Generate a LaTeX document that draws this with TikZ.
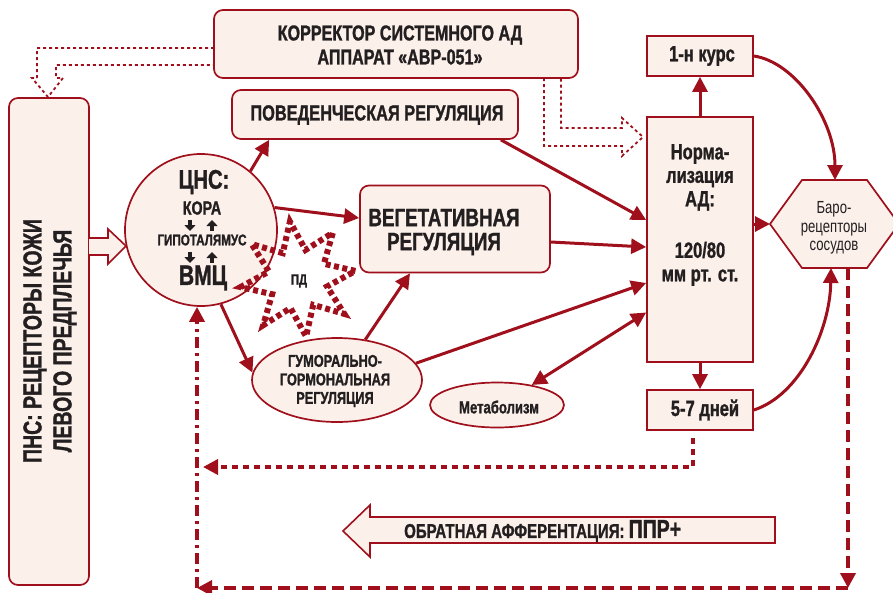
\documentclass[tikz,border=0pt]{standalone}
\usepackage{fontspec}
\setmainfont{Liberation Sans}[FakeStretch=0.75,BoldFeatures={FakeBold=1.2}]
\usetikzlibrary{arrows.meta,calc,shapes.geometric}
\definecolor{dred}{HTML}{A0101C}
\definecolor{cream}{HTML}{FBF0EA}
\definecolor{txt}{HTML}{231F20}
\begin{document}
\begin{tikzpicture}[x=1pt,y=-1pt,
  box/.style={draw=dred,line width=1.7pt,fill=cream,inner sep=0pt},
  rbox/.style={box,rounded corners=9pt},
  lbl/.style={text=txt,font=\bfseries,align=center,inner sep=0pt},
  tip/.style={-{Triangle[length=15pt,width=15pt]}},
  arr/.style={draw=dred,line width=3pt,tip},
  darr/.style={draw=dred,line width=3pt,{Triangle[length=15pt,width=15pt]}-{Triangle[length=15pt,width=15pt]}},
  hollow/.style={draw=dred,line width=1.6pt,fill=cream},
  dotarrow/.style={draw=dred,line width=1.8pt,dash pattern=on 3pt off 3pt},
  fbdash/.style={draw=dred,line width=3.6pt,dash pattern=on 12pt off 6pt},
  fbdot/.style={draw=dred,line width=3.6pt,dash pattern=on 6pt off 5pt},
  fbdashdot/.style={draw=dred,line width=3.6pt,dash pattern=on 11pt off 5pt on 3pt off 5pt},
  pdline/.style={draw=dred,line width=6pt,dash pattern=on 5pt off 3.5pt},
  small/.style={draw=txt,line width=3.8pt,-{Triangle[length=6pt,width=11pt]}}
]
\useasboundingbox (0,0) rectangle (893,592);

% boxes
\node[rbox,minimum width=364pt,minimum height=68pt] (top) at (396,44) {};
\node[lbl,font=\bfseries\fontsize{21.5}{24}\selectfont] (toptext) at (400,45) {КОРРЕКТОР СИСТЕМНОГО АД\\АППАРАТ «АВР-051»};

\node[rbox,minimum width=80pt,minimum height=487pt] (pns) at (49,341.5) {};
\node[lbl,rotate=90,font=\bfseries\fontsize{26}{30}\selectfont] (pnstext) at (50,341) {ПНС: РЕЦЕПТОРЫ КОЖИ\\ЛЕВОГО ПРЕДПЛЕЧЬЯ};

\node[rbox,minimum width=286pt,minimum height=49pt] (pov) at (375,114.5) {};
\node[lbl,font=\bfseries\fontsize{21.8}{24}\selectfont] (povtext) at (377,115) {ПОВЕДЕНЧЕСКАЯ РЕГУЛЯЦИЯ};

\node[box,minimum width=106pt,minimum height=40pt] (kurs) at (700,56) {};
\node[lbl,font=\bfseries\fontsize{22}{24}\selectfont] (kurstext) at (702,56) {1-н курс};

\node[box,minimum width=106pt,minimum height=245pt] (norm) at (700,239.5) {};
\node[lbl,font=\bfseries\fontsize{22}{23.5}\selectfont] (normtext) at (700,215) {Норма-\\лизация\\АД:\\[28pt]120/80\\мм рт. ст.};

\node[box,minimum width=106pt,minimum height=40pt] (dney) at (700,410) {};
\node[lbl,font=\bfseries\fontsize{22}{24}\selectfont] (dneytext) at (705,410) {5-7 дней};

\draw[box] (770,224) coordinate (hexW) -- (802,180) -- (867,180) -- (899,224) -- (867,268) -- (802,268) -- cycle;
\coordinate (hexT) at (835,180);
\coordinate (hexB) at (831,268);
\coordinate (hexBR) at (848,268);
\node[lbl,font=\fontsize{17.5}{18.5}\selectfont] (hex) at (834,228) {Баро-\\рецепторы\\сосудов};

\node[box,circle,minimum size=152pt] (cns) at (201,230) {};
\node[lbl,font=\bfseries\fontsize{27}{28}\selectfont] (cns1) at (204,182) {ЦНС:};
\node[lbl,font=\bfseries\fontsize{19}{20}\selectfont] (cns2) at (202,208) {КОРА};
\node[lbl,font=\bfseries\fontsize{15.5}{16}\selectfont] (cns3) at (202,240) {ГИПОТАЛЯМУС};
\node[lbl,font=\bfseries\fontsize{28}{30}\selectfont] (cns4) at (203,278) {ВМЦ};
\draw[small] (190,220) -- (190,231);
\draw[small] (212,231) -- (212,220);
\draw[small] (190,252) -- (190,263);
\draw[small] (212,263) -- (212,252);

\node[rbox,minimum width=190pt,minimum height=87pt] (veg) at (455,229) {};
\node[lbl,font=\bfseries\fontsize{25}{24}\selectfont] (vegtext) at (444,232) {ВЕГЕТАТИВНАЯ\\РЕГУЛЯЦИЯ};

\node[box,ellipse,minimum width=170pt,minimum height=84pt] (gum) at (337,380) {};
\node[lbl,font=\bfseries\fontsize{17}{18.5}\selectfont] (gumtext) at (335,381) {ГУМОРАЛЬНО-\\ГОРМОНАЛЬНАЯ\\РЕГУЛЯЦИЯ};

\node[box,ellipse,minimum width=134pt,minimum height=45pt] (met) at (497,405) {};
\node[lbl,font=\bfseries\fontsize{17.5}{18}\selectfont] (mettext) at (499,407) {Метаболизм};

% PD burst
\coordinate (pdc) at (298,279);
\draw[pdline] ($(pdc)+(8:58pt)$)
  -- ($(pdc)+(30.5:30pt)$) -- ($(pdc)+(53:58pt)$)
  -- ($(pdc)+(75.5:30pt)$) -- ($(pdc)+(98:58pt)$)
  -- ($(pdc)+(120.5:30pt)$) -- ($(pdc)+(143:58pt)$)
  -- ($(pdc)+(165.5:30pt)$) -- ($(pdc)+(188:58pt)$)
  -- ($(pdc)+(210.5:30pt)$) -- ($(pdc)+(233:58pt)$)
  -- ($(pdc)+(255.5:30pt)$) -- ($(pdc)+(278:58pt)$)
  -- ($(pdc)+(300.5:30pt)$) -- ($(pdc)+(323:58pt)$)
  -- ($(pdc)+(345.5:30pt)$) -- cycle;
\node[lbl,font=\bfseries\fontsize{15}{16}\selectfont] (pd) at (299,281) {ПД};

% hollow arrows
\filldraw[hollow] (89,238) -- (108,238) -- (108,229) -- (126,246) -- (108,264) -- (108,255) -- (89,255);
\filldraw[hollow] (775,517) -- (370,517) -- (370,505) -- (343,531) -- (370,557) -- (370,543) -- (775,543) -- cycle;
\node[lbl,font=\bfseries\fontsize{20}{20}\selectfont,anchor=west] (obr) at (404,531) {ОБРАТНАЯ АФФЕРЕНТАЦИЯ: {\fontsize{26}{24}\selectfont ППР+}};

% dotted hollow arrows from corrector
\draw[dotarrow] (214,48) -- (37,48) -- (37,78) -- (32,78) -- (48,97) -- (63,78) -- (56,78) -- (56,65) -- (214,65);
\draw[dotarrow] (544,78) -- (544,146) -- (622,146) -- (622,156) -- (643,137) -- (622,118) -- (622,128) -- (561,128) -- (561,78);

% connectors
\draw[arr] (cns.50) -- ($(pov.south west)+(38,0)$);
\draw[arr] (cns.17) -- ([yshift=11pt]veg.west);
\draw[arr] (cns.-75) -- (gum.175);
\draw[arr] (gum.55) -- ([xshift=-45pt]veg.south);
\draw[arr] (gum.12) -- ([yshift=-43.5pt]norm.west);
\draw[darr] (met.30) -- ([yshift=-73pt]norm.west);
\draw[arr] ([yshift=-13pt]veg.east) -- ([yshift=-7.5pt]norm.west);
\draw[arr] ($(pov.south east)+(-18,0)$) -- ([yshift=19.5pt]norm.west);
\draw[arr] (norm.north) -- (kurs.south);
\draw[arr] (norm.south) -- (dney.north);
\draw[arr] (hexW -| norm.east) -- (hexW);
\draw[arr] (kurs.east) .. controls (795,62) and (835,120) .. (hexT);
\draw[arr] (dney.east) .. controls (800,395) and (830,330) .. (hexB);

% feedback lines
\coordinate (br) at (848,588);
\coordinate (bl) at (197,588);
\draw[fbdash,tip] (hexBR) -- (br);
\draw[fbdash,tip] (br) -- (bl);
\draw[fbdashdot,tip] (bl) -- ([xshift=-4pt]cns.south);
\draw[fbdot,tip] ($(dney.south)+(-7,7)$) |- (203,467);
\end{tikzpicture}
\end{document}
